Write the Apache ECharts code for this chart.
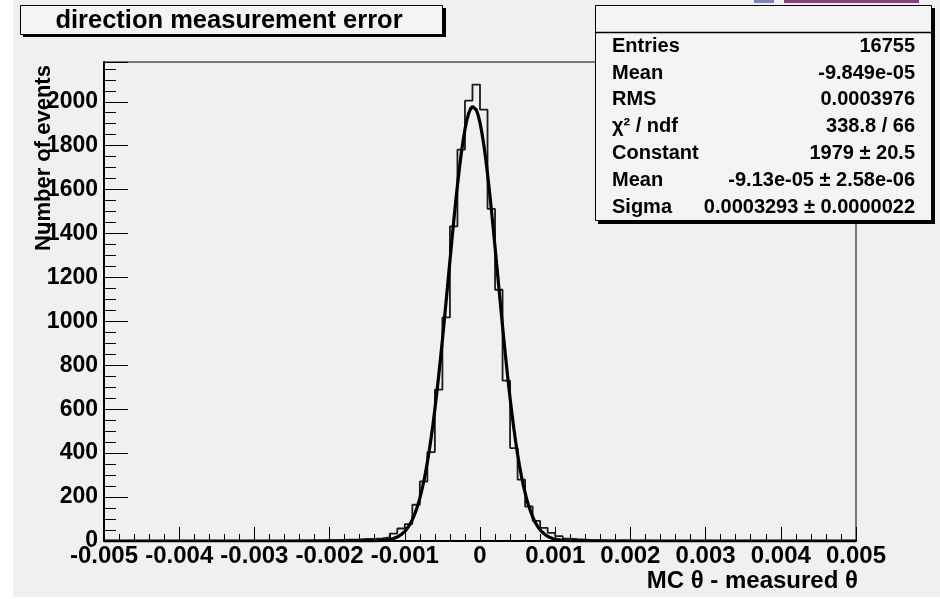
<!DOCTYPE html>
<html>
<head>
<meta charset="utf-8">
<script src="https://cdn.jsdelivr.net/npm/echarts@6/dist/echarts.min.js"></script>
<style>
  html, body { margin: 0; padding: 0; background: #ffffff; }
  #chart { width: 940px; height: 599px; }
</style>
</head>
<body>
<div id="chart"></div>
<script>
// Histogram of the direction error: 100 bins of width 0.0001 on [-0.005, 0.005]
const binStart = -0.005;
const binWidth = 0.0001;
const counts = [
  0, 0, 0, 0, 0, 1, 0, 0, 0, 0,
  0, 0, 1, 0, 0, 0, 0, 1, 0, 0,
  1, 0, 1, 1, 0, 2, 2, 3, 3, 4,
  4, 5, 6, 7, 9, 10, 12, 17, 34, 57,
  77, 165, 271, 405, 689, 1018, 1433, 1782, 2005, 2078,
  1964, 1512, 1144, 730, 423, 279, 157, 92, 60, 37,
  22, 11, 8, 6, 4, 4, 3, 2, 3, 2,
  1, 2, 1, 1, 0, 1, 1, 0, 1, 0,
  0, 1, 0, 0, 0, 0, 1, 0, 0, 0,
  0, 0, 0, 0, 1, 0, 0, 0, 0, 0
];

// Gaussian fit parameters (as listed in the statistics box)
const fitConstant = 1979;
const fitMean = -9.13e-5;
const fitSigma = 0.0003293;

// Statistics box rows
const statLabels = ['Entries', 'Mean', 'RMS', 'χ² / ndf', 'Constant', 'Mean', 'Sigma'];
const statValues = ['16755', '-9.849e-05', '0.0003976', '338.8 / 66', '1979 ± 20.5', '-9.13e-05 ± 2.58e-06', '0.0003293 ± 0.0000022'];

// Axis ranges and tick steps
const xRange = [-0.005, 0.005];
const xMajorStep = 0.001;
const yRange = [0, 2181];
const yMajorStep = 200;
const yMinorStep = 50;

const titleText = 'direction measurement error';
const xTitle = 'MC θ - measured θ';
const yTitle = 'Number of events';

const FONT = '"Liberation Sans", Arial, Helvetica, sans-serif';

// Step outline: each bin's lower edge with its count, closed at the upper edge
const histData = counts.map((c, i) => [binStart + i * binWidth, c]);
histData.push([binStart + counts.length * binWidth, counts[counts.length - 1]]);

// Fitted Gaussian sampled across the axis range
const fitData = [];
const nFit = 400;
for (let k = 0; k <= nFit; k++) {
  const x = xRange[0] + (xRange[1] - xRange[0]) * k / nFit;
  const z = (x - fitMean) / fitSigma;
  fitData.push([x, fitConstant * Math.exp(-0.5 * z * z)]);
}

const chart = echarts.init(document.getElementById('chart'), null, { renderer: 'canvas' });

const statsLeft = 595, statsTop = 5, statsW = 337, statsH = 216;
const statRowY = [46, 73, 99.5, 126.5, 153.5, 180, 207];

const graphics = [
  // white margins around the canvas area
  { type: 'rect', shape: { x: 0, y: 0, width: 13, height: 599 }, style: { fill: '#ffffff' }, z: 0, silent: true },
  { type: 'rect', shape: { x: 0, y: 597, width: 940, height: 2 }, style: { fill: '#ffffff' }, z: 0, silent: true },
  // toolbar fragments at the top edge
  { type: 'rect', shape: { x: 754, y: 0, width: 20, height: 3 }, style: { fill: '#7d84b6' }, z: 20, silent: true },
  { type: 'rect', shape: { x: 784, y: 0, width: 135, height: 3 }, style: { fill: '#80457b' }, z: 20, silent: true },
  // title box with shadow
  { type: 'rect', shape: { x: 23, y: 8, width: 423, height: 29 }, style: { fill: '#000000' }, z: 20, silent: true },
  { type: 'rect', shape: { x: 20.5, y: 5.5, width: 422, height: 29 }, style: { fill: '#f4f4f4', stroke: '#000000', lineWidth: 1 }, z: 21, silent: true },
  { type: 'text', x: 229, y: 21, style: { text: titleText, font: 'bold 25.5px ' + FONT, fill: '#000000', textAlign: 'center', textVerticalAlign: 'middle' }, z: 22, silent: true },
  // statistics box with shadow
  { type: 'rect', shape: { x: statsLeft + 3, y: statsTop + 3, width: statsW, height: statsH }, style: { fill: '#000000' }, z: 20, silent: true },
  { type: 'rect', shape: { x: statsLeft + 0.5, y: statsTop + 0.5, width: statsW - 1, height: statsH - 1 }, style: { fill: '#f4f4f4', stroke: '#000000', lineWidth: 1 }, z: 21, silent: true },
  { type: 'line', shape: { x1: statsLeft, y1: 32.5, x2: statsLeft + statsW, y2: 32.5 }, style: { stroke: '#000000', lineWidth: 1.5 }, z: 22, silent: true },
  // axis titles
  { type: 'text', x: 44, y: 158, rotation: Math.PI / 2, style: { text: yTitle, font: 'bold 22px ' + FONT, fill: '#000000', textAlign: 'center', textVerticalAlign: 'middle' }, z: 22, silent: true },
  { type: 'text', x: 858, y: 581, style: { text: xTitle, font: 'bold 24px ' + FONT, fill: '#000000', textAlign: 'right', textVerticalAlign: 'middle' }, z: 22, silent: true }
];

statLabels.forEach((lab, i) => {
  graphics.push({ type: 'text', x: 612, y: statRowY[i], style: { text: lab, font: 'bold 20px ' + FONT, fill: '#000000', textAlign: 'left', textVerticalAlign: 'middle' }, z: 22, silent: true });
  graphics.push({ type: 'text', x: 915, y: statRowY[i], style: { text: statValues[i], font: 'bold 20px ' + FONT, fill: '#000000', textAlign: 'right', textVerticalAlign: 'middle' }, z: 22, silent: true });
});

const option = {
  animation: false,
  backgroundColor: '#f0f0f0',
  grid: {
    left: 104, top: 62, width: 752, height: 479,
    show: true, borderColor: '#000000', borderWidth: 1, backgroundColor: 'transparent',
    containLabel: false, outerBoundsMode: 'none'
  },
  xAxis: {
    type: 'value', min: xRange[0], max: xRange[1], interval: xMajorStep,
    axisLine: { show: true, onZero: false, lineStyle: { color: '#000000', width: 2 } },
    axisTick: { show: true, inside: true, length: 14, lineStyle: { color: '#000000', width: 1 } },
    minorTick: { show: true, splitNumber: 5, length: 7, lineStyle: { color: '#000000', width: 1 } },
    splitLine: { show: false }, minorSplitLine: { show: false },
    axisLabel: {
      show: true, margin: 3, color: '#000000', fontFamily: FONT, fontWeight: 'bold', fontSize: 24,
      formatter: v => (Math.abs(v) < 1e-12 ? '0' : v.toFixed(3))
    }
  },
  yAxis: [
    {
      type: 'value', min: yRange[0], max: yRange[1], interval: yMajorStep, position: 'left', offset: 0,
      axisLine: { show: true, onZero: false, lineStyle: { color: '#000000', width: 2 } },
      axisTick: { show: true, inside: true, length: 24, lineStyle: { color: '#000000', width: 1 } },
      splitLine: { show: false },
      axisLabel: {
        show: true, margin: 6, color: '#000000', fontFamily: FONT, fontWeight: 'bold', fontSize: 23,
        formatter: v => (v % yMajorStep === 0 ? String(v) : '')
      }
    },
    {
      type: 'value', min: yRange[0], max: yRange[1], interval: yMinorStep, position: 'left', offset: 0,
      axisLine: { show: false, onZero: false },
      axisTick: { show: true, inside: true, length: 12, lineStyle: { color: '#000000', width: 1 } },
      splitLine: { show: false },
      axisLabel: { show: false }
    }
  ],
  series: [
    {
      name: 'histogram', type: 'line', step: 'end', data: histData,
      xAxisIndex: 0, yAxisIndex: 0,
      showSymbol: false, symbol: 'none',
      lineStyle: { color: '#1a1a1a', width: 1.8 },
      z: 3, silent: true, clip: true
    },
    {
      name: 'gaus', type: 'line', data: fitData,
      xAxisIndex: 0, yAxisIndex: 0,
      showSymbol: false, symbol: 'none', smooth: false,
      lineStyle: { color: '#000000', width: 3.2 },
      z: 4, silent: true, clip: true
    }
  ],
  graphic: { elements: graphics }
};

chart.setOption(option);
</script>
</body>
</html>
